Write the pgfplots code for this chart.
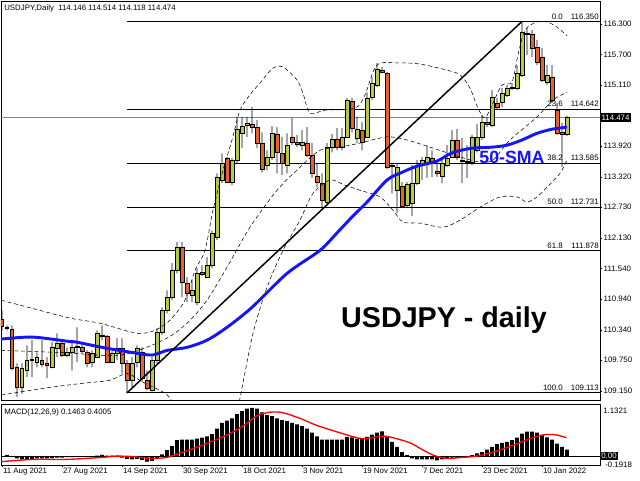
\documentclass[border=0pt]{standalone}
\usepackage{pgfplots}
\pgfplotsset{compat=1.18}
\usepackage{pgfplotstable}
\usepackage{fontspec}
\setmainfont{Liberation Sans}
\definecolor{bull}{RGB}{182,202,62}
\definecolor{bear}{RGB}{232,98,40}
\definecolor{smablue}{RGB}{20,20,255}
\definecolor{pline}{RGB}{120,120,215}
\newcommand\mt{\fontsize{5.9}{7}\selectfont}

\pgfplotstableread{
i O H L C
0 110.55 110.72 110.33 110.41
1 110.39 110.43 110.33 110.37
2 110.35 110.43 109.55 109.59
3 109.61 109.69 109.03 109.22
4 109.22 109.69 109.10 109.59
5 109.55 110.04 109.42 109.75
6 109.75 110.14 109.42 109.77
7 109.71 109.90 109.61 109.81
8 109.75 110.14 109.61 109.67
9 109.69 109.81 109.40 109.65
10 109.61 110.10 109.59 110.00
11 109.98 110.27 109.81 110.08
12 110.08 110.14 109.81 109.85
13 109.85 110.00 109.81 109.90
14 109.90 110.08 109.55 110.00
15 110.00 110.39 109.71 110.02
16 110.00 110.08 109.88 109.92
17 109.90 109.94 109.61 109.69
18 109.71 109.94 109.61 109.88
19 109.81 110.33 109.79 110.27
20 110.24 110.43 110.14 110.22
21 110.22 110.24 109.69 109.71
22 109.71 109.94 109.69 109.88
23 109.88 110.18 109.75 109.98
24 109.98 110.18 109.49 109.69
25 109.69 109.75 109.11 109.36
26 109.36 109.81 109.22 109.69
27 109.71 110.04 109.61 109.98
28 109.90 110.00 109.32 109.40
29 109.36 109.55 109.16 109.20
30 109.16 109.81 109.14 109.75
31 109.75 110.37 109.69 110.29
32 110.29 110.78 110.24 110.72
33 110.72 111.11 110.66 110.98
34 110.98 111.64 110.92 111.50
35 111.50 112.05 111.44 111.95
36 111.95 112.05 110.98 111.27
37 111.25 111.37 110.88 111.05
38 111.02 111.31 110.88 111.11
39 110.88 111.54 110.82 111.44
40 111.46 111.60 111.39 111.43
41 111.37 111.76 111.35 111.60
42 111.60 112.28 111.54 112.22
43 112.15 113.39 112.09 113.32
44 113.26 113.78 113.20 113.59
45 113.69 113.71 113.20 113.22
46 113.22 113.69 113.16 113.65
47 113.65 114.49 113.59 114.25
48 114.17 114.49 113.88 114.31
49 114.33 114.49 114.10 114.37
50 114.35 114.68 114.17 114.29
51 114.29 114.43 113.88 113.98
52 113.98 114.19 113.41 113.47
53 113.55 113.84 113.45 113.71
54 113.71 114.31 113.65 114.17
55 114.16 114.29 113.39 113.80
56 113.78 114.10 113.36 113.59
57 113.55 114.17 113.39 113.94
58 114.10 114.47 113.94 114.00
59 114.00 114.14 113.90 113.96
60 113.94 114.23 113.84 114.00
61 113.98 114.29 113.71 113.75
62 113.75 113.98 113.30 113.39
63 113.34 113.59 113.12 113.22
64 113.20 113.39 112.71 112.87
65 112.83 113.98 112.79 113.90
66 113.90 114.16 113.80 114.06
67 114.06 114.27 113.84 113.90
68 113.90 114.27 113.84 114.10
69 114.10 114.86 114.08 114.82
70 114.80 114.86 114.19 114.27
71 114.08 114.49 113.98 114.25
72 114.23 114.39 113.84 114.00
73 114.10 114.97 114.08 114.86
74 114.88 115.27 114.82 115.15
75 115.11 115.54 115.07 115.42
76 115.40 115.46 115.34 115.36
77 115.33 115.36 113.47 113.51
78 113.53 113.59 113.00 113.55
79 113.06 113.59 112.61 113.51
80 113.14 113.22 112.73 112.75
81 112.77 113.22 112.73 113.18
82 112.81 113.55 112.56 113.20
83 113.20 113.65 113.16 113.55
84 113.55 113.71 113.26 113.65
85 113.59 113.94 113.30 113.71
86 113.69 113.84 113.32 113.59
87 113.43 113.61 113.32 113.39
88 113.34 113.65 113.20 113.59
89 113.55 113.94 113.51 113.69
90 113.71 114.23 113.71 114.04
91 114.04 114.25 113.65 113.71
92 113.65 114.08 113.20 113.63
93 113.61 113.94 113.30 113.63
94 113.61 114.14 113.55 114.10
95 113.84 114.35 113.80 114.10
96 114.10 114.53 114.04 114.39
97 114.39 114.49 114.29 114.35
98 114.33 115.01 114.29 114.88
99 114.76 114.86 114.64 114.68
100 114.78 115.05 114.68 114.95
101 114.92 115.11 114.88 115.05
102 115.05 115.15 115.01 115.07
103 115.05 115.50 115.01 115.34
104 115.31 116.35 115.27 116.14
105 116.12 116.22 115.70 116.10
106 116.09 116.18 115.66 115.83
107 115.85 115.99 115.50 115.56
108 115.66 115.83 115.17 115.21
109 115.17 115.50 115.11 115.31
110 115.27 115.50 114.76 114.82
111 114.62 114.76 114.14 114.17
112 114.19 114.37 113.51 114.16
113 114.146 114.514 114.118 114.474
}\candles

\pgfplotstableread{
i v
0 0.00
1 0.03
2 -0.01
3 -0.05
4 -0.07
5 -0.06
6 -0.06
7 -0.05
8 -0.05
9 -0.05
10 -0.04
11 -0.03
12 -0.03
13 -0.02
14 -0.02
15 -0.01
16 -0.01
17 -0.01
18 0.00
19 0.01
20 0.03
21 0.01
22 0.01
23 0.01
24 -0.03
25 -0.06
26 -0.07
27 -0.06
28 -0.08
29 -0.12
30 -0.10
31 -0.05
32 0.04
33 0.13
34 0.22
35 0.35
36 0.36
37 0.36
38 0.36
39 0.38
40 0.40
41 0.43
42 0.48
43 0.60
44 0.72
45 0.77
46 0.82
47 0.91
48 0.98
49 1.03
50 1.05
51 1.03
52 0.95
53 0.89
54 0.87
55 0.82
56 0.78
57 0.76
58 0.72
59 0.69
60 0.65
61 0.60
62 0.51
63 0.43
64 0.36
65 0.36
66 0.36
67 0.36
68 0.36
69 0.42
70 0.41
71 0.38
72 0.38
73 0.42
74 0.47
75 0.51
76 0.54
77 0.42
78 0.31
79 0.20
80 0.09
81 0.02
82 -0.05
83 -0.07
84 -0.07
85 -0.07
86 -0.07
87 -0.09
88 -0.07
89 -0.05
90 -0.03
91 -0.03
92 -0.01
93 -0.01
94 0.02
95 0.06
96 0.09
97 0.14
98 0.20
99 0.26
100 0.29
101 0.31
102 0.35
103 0.40
104 0.49
105 0.53
106 0.53
107 0.51
108 0.46
109 0.41
110 0.36
111 0.27
112 0.20
113 0.14
}\macdhist

\pgfplotsset{
  mainpos/.style={at={(0.75pt,60pt)}, anchor=south west, scale only axis,
    width=449.25pt, height=299.25pt, xmin=-0.2, xmax=119.6, ymin=108.974, ymax=116.748},
}

\begin{document}
\begin{tikzpicture}
\path[use as bounding box] (0,0) rectangle (480pt,360pt);

% ---------- main frame, fib levels, price line
\begin{axis}[mainpos, clip mode=individual,
  axis line style={black, line width=0.5pt},
  xtick=\empty,
  ytick={109.15,109.75,110.34,110.94,111.54,112.13,112.73,113.32,113.92,115.11,115.70,116.30},
  yticklabels={109.150,109.750,110.340,110.940,111.540,112.130,112.730,113.320,113.920,115.110,115.700,116.300},
  ytick pos=right, yticklabel pos=right, tick align=outside, major tick length=1.8pt,
  tick style={black, line width=0.5pt},
  yticklabel style={font=\mt, anchor=west, inner sep=0pt, xshift=0.8pt}]
\addplot[black, line width=0.75pt] coordinates {(25,116.350) (119.6,116.350)};
\addplot[black, line width=0.75pt] coordinates {(25,114.642) (119.6,114.642)};
\addplot[black, line width=0.75pt] coordinates {(25,113.585) (119.6,113.585)};
\addplot[black, line width=0.75pt] coordinates {(25,112.731) (119.6,112.731)};
\addplot[black, line width=0.75pt] coordinates {(25,111.878) (119.6,111.878)};
\addplot[black, line width=0.75pt] coordinates {(25,109.113) (119.6,109.113)};
\addplot[pline, line width=0.5pt] coordinates {(-0.2,114.474) (119.6,114.474)};
\foreach \lv/\pr in {0.0/116.350,23.6/114.642,38.2/113.585,50.0/112.731,61.8/111.878,100.0/109.113}{
  \edef\tmp{\noexpand\node[font=\noexpand\mt, anchor=base east, inner sep=0pt, yshift=1.8pt] at (axis cs:112.2,\pr) {\lv};
  \noexpand\node[font=\noexpand\mt, anchor=base east, inner sep=0pt, yshift=1.8pt] at (axis cs:119.4,\pr) {\pr};}
  \tmp
}
\node[font=\mt, anchor=west, fill=black, text=white, inner xsep=1pt, inner ysep=1.3pt] at (axis cs:119.6,114.474) {114.474};
\end{axis}

% ---------- wicks
\begin{axis}[mainpos, hide axis, ybar stacked, bar width=0.6pt]
\addplot[draw=none, fill=none] table[x=i, y=L] {\candles};
\addplot[draw=none, fill=black] table[x=i, y expr={\thisrow{H}-\thisrow{L}}] {\candles};
\end{axis}

% ---------- bodies
\begin{axis}[mainpos, hide axis, ybar stacked, bar width=2.7pt]
\addplot[draw=none, fill=none] table[x=i, y expr={min(\thisrow{O},\thisrow{C})}] {\candles};
\addplot[draw=black, line width=0.45pt, fill=bull] table[x=i, y expr={max(\thisrow{C}-\thisrow{O},0)}] {\candles};
\addplot[draw=black, line width=0.45pt, fill=bear] table[x=i, y expr={max(\thisrow{O}-\thisrow{C},0)}] {\candles};
\end{axis}

% ---------- overlays
\begin{axis}[mainpos, hide axis, clip mode=individual]
% Bollinger bands
\addplot[black, line width=0.4pt, dash pattern=on 3pt off 2pt, smooth, tension=0.5] coordinates {
(-0.2,110.92) (7.6,110.72) (13.6,110.57) (19.6,110.47) (24.6,110.33) (27.6,110.27) (30.6,110.33)
(33.6,110.53) (36.6,110.92) (38.6,111.50) (40.6,111.89) (42.2,112.67) (44.2,113.45) (46,114.04)
(47.6,114.62) (49.6,114.92) (51.6,115.15) (54.2,115.44) (56.2,115.46) (59,115.21) (60.2,114.95)
(61.6,114.56) (64.6,114.62) (70.6,114.66) (72.6,114.92) (75,115.50) (79.6,115.54) (83.6,115.52)
(89,115.40) (91.6,115.31) (93.6,115.05) (95.2,114.66) (96.6,114.47) (98.2,114.76) (100,115.11)
(102,115.17) (103.2,115.70) (104.6,116.18) (107,116.34) (109,116.34) (111,116.24) (113,116.07)};
\addplot[black, line width=0.4pt, dash pattern=on 3pt off 2pt, smooth, tension=0.5] coordinates {
(-0.2,109.94) (11.6,109.90) (23.6,109.85) (32.2,110.14) (37,110.47) (41,110.92) (45,111.56)
(49.6,112.34) (55,113.06) (59.6,113.51) (63.6,113.84) (67.6,113.90) (71.6,113.98) (77,114.10)
(81,114.04) (85.6,113.90) (91.6,113.71) (95.6,113.61) (98.2,113.65) (101.6,114.04) (107,114.49)
(110.2,114.82) (113,114.97)};
\addplot[black, line width=0.4pt, dash pattern=on 3pt off 2pt, smooth, tension=0.5] coordinates {
(-0.2,109.07) (9.6,109.22) (16.2,109.30) (21.6,109.36) (25,109.49) (28.2,109.32) (31.6,109.16)
(33.6,109.01) (37.6,108.38) (43.6,108.19) (46.6,108.58) (47.6,109.01) (50.2,110.27) (53,111.17)
(56.2,111.89) (59.6,112.48) (62.2,113.00) (65.6,113.26) (68.6,113.16) (71.6,113.06) (75.6,112.93)
(78.2,112.67) (80.2,112.44) (83.6,112.42) (88.2,112.34) (91.6,112.48) (95.6,112.73) (99.6,112.93)
(103,112.93) (105,112.83) (107,112.93) (109,113.12) (111.6,113.39) (113,113.65)};
% 50-SMA
\addplot[smablue, line width=2.2pt, smooth, tension=0.5] coordinates {
(-0.2,110.16) (6,110.20) (13,110.12) (15,110.10) (20,110.00) (26,109.90) (30,109.85) (33,109.94)
(37,110.00) (41,110.14) (45,110.39) (50,110.78) (57,111.44) (63.6,111.89) (67,112.23) (70,112.54)
(73,112.83) (77,113.26) (80,113.41) (83,113.53) (87,113.63) (90,113.79) (94,113.88) (98,113.90)
(101,113.94) (104,114.04) (107,114.17) (110,114.25) (113,114.29)};
% trend line
\addplot[black, line width=1.1pt] coordinates {(25,109.113) (104,116.35)};
\node[font=\fontsize{13.3}{15}\selectfont\bfseries, text=smablue, inner sep=0pt] at (axis cs:102,113.70) {50-SMA};
\node[font=\fontsize{21.5}{24}\selectfont\bfseries, inner sep=0pt] at (axis cs:88.4,110.53) {USDJPY - daily};
\end{axis}

% ---------- MACD
\begin{axis}[at={(0.75pt,11.25pt)}, anchor=south west, scale only axis,
  width=449.25pt, height=45.75pt, xmin=-0.2, xmax=119.6, ymin=-0.1918, ymax=1.1321,
  axis line style={black, line width=0.5pt}, ytick=\empty,
  xtick={0,12,24,36,48,60,72,84,96,108},
  xticklabels={11 Aug 2021,27 Aug 2021,14 Sep 2021,30 Sep 2021,18 Oct 2021,3 Nov 2021,19 Nov 2021,7 Dec 2021,23 Dec 2021,10 Jan 2022},
  xtick pos=bottom, tick align=outside, major tick length=1.8pt, tick style={black, line width=0.5pt},
  xticklabel style={font=\mt, anchor=north west, inner sep=0pt, yshift=-0.6pt, xshift=0.6pt},
  clip mode=individual]
\addplot[ybar, bar width=2.7pt, bar shift=0pt, fill=black, draw=none] table[x=i, y=v] {\macdhist};
\addplot[black, line width=0.5pt] coordinates {(-0.2,0) (119.6,0)};
\addplot[red, line width=1pt, smooth, tension=0.5] coordinates {
(-0.2,-0.12) (6.3,-0.07) (12.9,-0.07) (19.6,-0.03) (22.9,0.00) (26.3,-0.01) (29.6,-0.05) (32.9,-0.03)
(34.3,0.02) (36.3,0.09) (39.6,0.22) (42.9,0.36) (46.3,0.53) (48.9,0.71) (50.9,0.87) (52.9,0.94)
(54.3,0.96) (56.3,0.94) (59.6,0.82) (62.9,0.67) (66.9,0.53) (70.3,0.42) (72.3,0.38) (75.6,0.43)
(76.9,0.43) (78.9,0.38) (81.6,0.29) (83.6,0.17) (86.3,0.02) (88.9,-0.05) (91.6,-0.03) (94.9,0.00)
(98.3,0.09) (102.3,0.24) (106.3,0.41) (108.9,0.47) (110.9,0.46) (112.9,0.40)};
\node[font=\mt, anchor=west, fill=black, text=white, inner xsep=0.8pt, inner ysep=0.9pt] at (axis cs:119.6,0) {0.00};
\end{axis}

% ---------- texts
\node[font=\mt, anchor=west, inner sep=0pt] at (3pt,354pt) {USDJPY,Daily\ \ 114.146 114.514 114.118 114.474};
\node[font=\mt, anchor=west, inner sep=0pt] at (3pt,51pt) {MACD(12,26,9) 0.1463 0.4005};
\node[font=\mt, anchor=west, inner sep=0pt] at (452.25pt,51.75pt) {1.1321};
\node[font=\mt, anchor=west, inner sep=0pt] at (453.75pt,11.6pt) {-0.1918};
\end{tikzpicture}
\end{document}
